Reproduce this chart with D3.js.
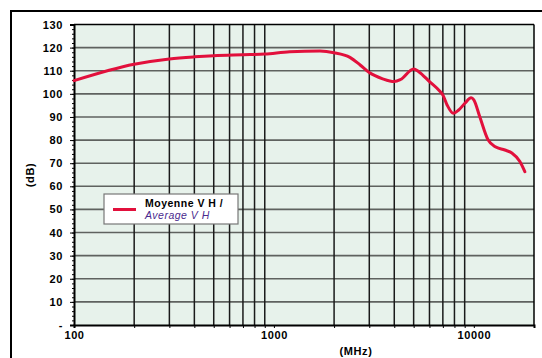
<!DOCTYPE html>
<html>
<head>
<meta charset="utf-8">
<script src="https://cdn.jsdelivr.net/npm/d3@7"></script>
<style>
  body { margin: 0; background: #fff; }
  svg { display: block; font-family: "Liberation Sans", Arial, sans-serif; }
</style>
</head>
<body>
<svg id="chart" width="542" height="358"></svg>
<script>
// frequency (MHz) and average level (dB)
const freqs = [100, 200, 300, 400, 500, 700, 900, 1200, 1700, 2000, 2400, 2700, 3000,
  3500, 4000, 4300, 5000, 5300, 6000, 6800, 7000, 7350, 7900, 8400, 9000, 9700, 10000,
  10700, 11800, 12800, 14300, 15500, 17000, 18000];
const levels = [105.7, 112.8, 115.1, 116, 116.5, 116.9, 117.2, 118.2, 118.5, 117.8, 115.8, 112.5, 109.2,
  106.5, 105.3, 106.2, 110.8, 109.6, 105.3, 100.9, 99.5, 95.2, 91.6, 93.0, 95.8, 98.3, 97.4,
  90.2, 80, 77.1, 75.7, 74.4, 70.7, 66.3];

const yTicks = d3.range(0, 131, 10);
const xLabels = [100, 1000, 10000];
const xGrid = [200, 300, 400, 500, 600, 700, 800, 900,
  2000, 3000, 4000, 5000, 6000, 7000, 8000, 9000];

const margin = { top: 24.5, right: 8, bottom: 33, left: 74 };
const W = 542, H = 358;
const width = W - margin.left - margin.right;
const height = H - margin.top - margin.bottom;

const svg = d3.select("#chart");

// outer frame (runs off the right and bottom edges)
svg.append("rect")
  .attr("x", 11).attr("y", 11)
  .attr("width", 560).attr("height", 380)
  .attr("fill", "none").attr("stroke", "#000").attr("stroke-width", 2);

const g = svg.append("g")
  .attr("transform", `translate(${margin.left},${margin.top})`);

const x = d3.scaleLog().domain([100, 20000]).range([0, width]);
const y = d3.scaleLinear().domain([0, 130]).range([height, 0]);

g.append("rect")
  .attr("width", width).attr("height", height)
  .attr("fill", "#e7f2eb");

// horizontal grid
g.selectAll(".hgrid")
  .data(yTicks.filter(d => d > 0 && d < 130))
  .enter().append("line")
  .attr("x1", 0).attr("x2", width)
  .attr("y1", d => y(d)).attr("y2", d => y(d))
  .attr("stroke", "#5f625f").attr("stroke-width", 1.6);

// vertical grid (minor only)
g.selectAll(".vgrid")
  .data(xGrid)
  .enter().append("line")
  .attr("x1", d => x(d)).attr("x2", d => x(d))
  .attr("y1", 0).attr("y2", height)
  .attr("stroke", "#1a1a1a").attr("stroke-width", 1.5);

// plot border top/right
g.append("line").attr("x1", 0).attr("x2", width).attr("y1", 0).attr("y2", 0)
  .attr("stroke", "#000").attr("stroke-width", 1.5);
g.append("line").attr("x1", width).attr("x2", width).attr("y1", 0).attr("y2", height)
  .attr("stroke", "#000").attr("stroke-width", 1.5);

// y axis: minor ticks every 2
g.append("g")
  .call(d3.axisLeft(y).tickValues(d3.range(0, 131, 2)).tickSize(2).tickFormat(""))
  .call(a => a.select(".domain").remove())
  .call(a => a.selectAll("line").attr("stroke", "#000"));

g.append("g")
  .call(d3.axisLeft(y).tickValues(yTicks).tickSize(4).tickPadding(7)
    .tickFormat(d => d === 0 ? "-" : d))
  .call(a => a.select(".domain").attr("stroke", "#000").attr("stroke-width", 2))
  .call(a => a.selectAll("text")
    .attr("font-family", "Liberation Sans, Arial, sans-serif")
    .attr("font-size", 11).attr("font-weight", "bold").attr("fill", "#000")
    .attr("letter-spacing", 0.6));

// x axis
g.append("g")
  .attr("transform", `translate(0,${height})`)
  .call(d3.axisBottom(x).tickValues(xGrid.concat([20000])).tickSize(3).tickFormat(""))
  .call(a => a.select(".domain").remove())
  .call(a => a.selectAll("line").attr("stroke", "#000"));

g.append("g")
  .attr("transform", `translate(0,${height})`)
  .call(d3.axisBottom(x).tickValues(xLabels).tickSize(3).tickPadding(3)
    .tickFormat(d3.format("d")))
  .call(a => a.select(".domain").attr("stroke", "#000").attr("stroke-width", 2))
  .call(a => a.selectAll("text")
    .attr("font-family", "Liberation Sans, Arial, sans-serif")
    .attr("font-size", 11).attr("font-weight", "bold").attr("fill", "#000")
    .attr("letter-spacing", 0.6));

// curve
const line = d3.line()
  .x((d, i) => x(freqs[i]))
  .y(d => y(d))
  .curve(d3.curveMonotoneX);

g.append("path")
  .datum(levels)
  .attr("d", line)
  .attr("fill", "none")
  .attr("stroke", "#e2103c")
  .attr("stroke-width", 3)
  .attr("stroke-linejoin", "round")
  .attr("stroke-linecap", "round");

// axis titles
svg.append("text")
  .attr("x", 356).attr("y", 355)
  .attr("text-anchor", "middle")
  .attr("font-size", 11).attr("font-weight", "bold").attr("letter-spacing", 0.6)
  .text("(MHz)");

svg.append("text")
  .attr("transform", "translate(34,175) rotate(-90)")
  .attr("text-anchor", "middle")
  .attr("font-size", 11).attr("font-weight", "bold").attr("letter-spacing", 0.6)
  .text("(dB)");

// legend
const lg = svg.append("g").attr("transform", "translate(104,194)");
lg.append("rect")
  .attr("width", 134).attr("height", 30)
  .attr("fill", "#fff").attr("stroke", "#777").attr("stroke-width", 1.2);
lg.append("line")
  .attr("x1", 9).attr("x2", 32).attr("y1", 15.5).attr("y2", 15.5)
  .attr("stroke", "#e2103c").attr("stroke-width", 3);
lg.append("text")
  .attr("x", 41).attr("y", 12.5)
  .attr("font-size", 10.5).attr("font-weight", "bold").attr("letter-spacing", 0.5)
  .text("Moyenne V H /");
lg.append("text")
  .attr("x", 41).attr("y", 25)
  .attr("font-size", 10.5).attr("font-style", "italic").attr("letter-spacing", 0.5)
  .attr("fill", "#4a2a8e")
  .text("Average V H");
</script>
</body>
</html>
